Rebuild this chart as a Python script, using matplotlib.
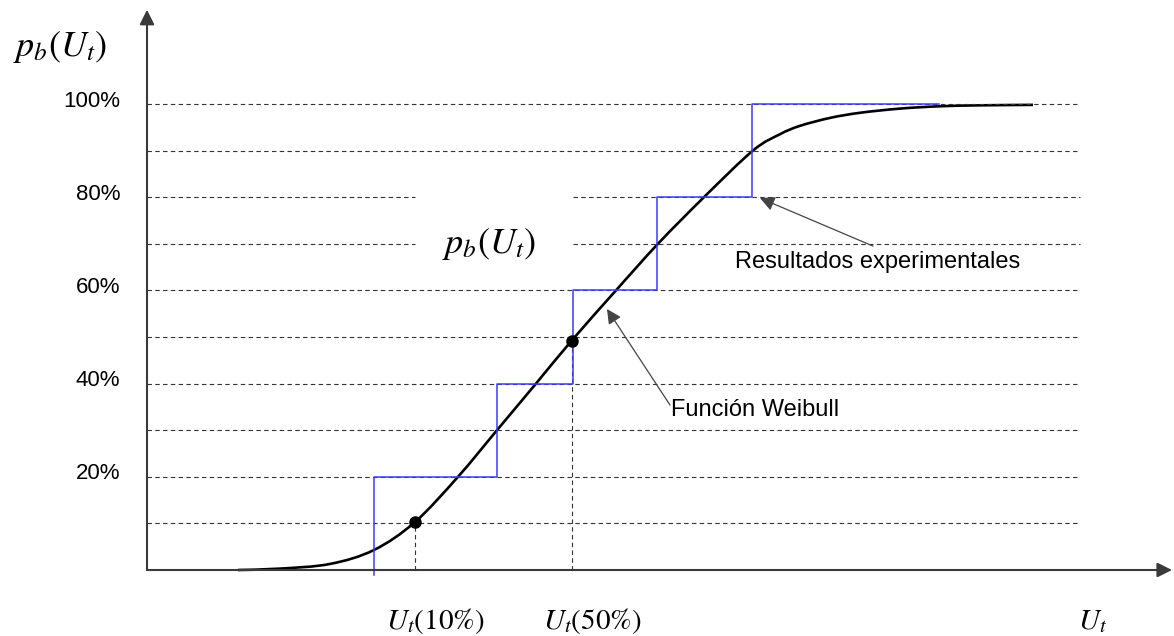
import matplotlib

matplotlib.use("Agg")

import matplotlib.pyplot as plt
import numpy as np
from matplotlib.path import Path
from matplotlib.patches import PathPatch

plt.rcParams["font.family"] = ["Liberation Sans", "DejaVu Sans"]
plt.rcParams["mathtext.fontset"] = "stix"

# probability levels (%) for gridlines and tick labels
grid_levels = [10, 20, 30, 40, 50, 60, 70, 80, 90, 100]
tick_levels = [20, 40, 60, 80, 100]
tick_labels = ["20%", "40%", "60%", "80%", "100%"]

# experimental results (step function): voltage at each jump, probability after it
step_u = [227, 227, 350, 426, 510, 605, 792]
step_p = [-1, 20, 40, 60, 80, 100, 100]

# Weibull curve, points
curve_u = [91, 133, 183, 227, 268, 311, 350, 389, 425, 469, 511, 557, 606,
           633, 653, 683, 713, 753, 793, 833, 886]
curve_p = [0, 0.3, 1.3, 4.3, 10.3, 20, 30, 40, 49.3, 60, 70, 80, 90,
           93.5, 95.3, 97.0, 98.1, 99.0, 99.5, 99.7, 99.8]

# marked points U_t(10%) and U_t(50%)
mark_u = [268, 425]
mark_p = [10.3, 49.1]
mark_labels = ["$U_t(10\\%)$", "$U_t(50\\%)$"]


def smooth_path(xs, ys):
    pts = np.column_stack([xs, ys]).astype(float)
    verts = [pts[0]]
    codes = [Path.MOVETO]
    n = len(pts)
    for i in range(n - 1):
        p0 = pts[max(i - 1, 0)]
        p1 = pts[i]
        p2 = pts[i + 1]
        p3 = pts[min(i + 2, n - 1)]
        verts += [p1 + (p2 - p0) / 6, p2 - (p3 - p1) / 6, p2]
        codes += [Path.CURVE4] * 3
    return Path(verts, codes)


fig = plt.figure(figsize=(11.74, 6.36), dpi=100)
ax = fig.add_axes([0, 0, 1, 1])
ax.set_xlim(-147, 1027)
ax.set_ylim(-14.16, 122.3)
ax.axis("off")

# --- dashed horizontal grid, with a gap where the middle label sits ---
dash = (0, (4, 3))
for lvl in grid_levels:
    if lvl in (70, 80):
        ax.plot([0, 268], [lvl, lvl], color="#333333", lw=0.8, ls=dash)
        ax.plot([426, 933], [lvl, lvl], color="#333333", lw=0.8, ls=dash)
    else:
        ax.plot([0, 933], [lvl, lvl], color="#333333", lw=0.8, ls=dash)

# dashed drop lines from marked points
for u, p in zip(mark_u, mark_p):
    ax.plot([u, u], [0, p], color="#333333", lw=0.8, ls=dash)

# --- axes with arrows ---
axis_arrow = dict(arrowstyle="-|>", color="#3a3a3a", lw=1.5,
                  mutation_scale=22, shrinkA=0, shrinkB=0)
ax.annotate("", xy=(1025, 0), xytext=(0, 0), arrowprops=axis_arrow)
ax.annotate("", xy=(0, 120.2), xytext=(0, 0), arrowprops=axis_arrow)

# --- experimental step function ---
ax.plot(step_u, step_p, drawstyle="steps-post", color="#3b3bff", lw=1.1)

# --- Weibull curve ---
ax.add_patch(PathPatch(smooth_path(curve_u, curve_p), facecolor="none",
                       edgecolor="black", lw=1.9))
ax.plot(mark_u, mark_p, "o", color="black", ms=8)

# --- texts ---
for lvl, lab in zip(tick_levels, tick_labels):
    ax.text(-27, lvl + 0.6, lab, ha="right", va="center", fontsize=16)

ax.text(-134, 112.2, "$p_b(U_t)$", fontsize=26, ha="left", va="center")
ax.text(295, 70.0, "$p_b(U_t)$", fontsize=26, ha="left", va="center")
for u, lab in zip(mark_u, mark_labels):
    ax.text(u + 20, -10.9, lab, fontsize=21, ha="center", va="center")
ax.text(946, -10.9, "$U_t$", fontsize=21, ha="center", va="center")

note_arrow = dict(arrowstyle="-|>", color="#444444", lw=0.9,
                  mutation_scale=22, shrinkA=0, shrinkB=0)
ax.text(588, 66.1, "Resultados experimentales", fontsize=17,
        ha="left", va="center")
ax.annotate("", xy=(613, 79.8), xytext=(726, 69.5), arrowprops=note_arrow)
ax.text(524, 34.3, "Función Weibull", fontsize=17, ha="left", va="center")
ax.annotate("", xy=(460, 56.0), xytext=(523, 35.4), arrowprops=note_arrow)

fig.savefig("out.png", dpi=100)
